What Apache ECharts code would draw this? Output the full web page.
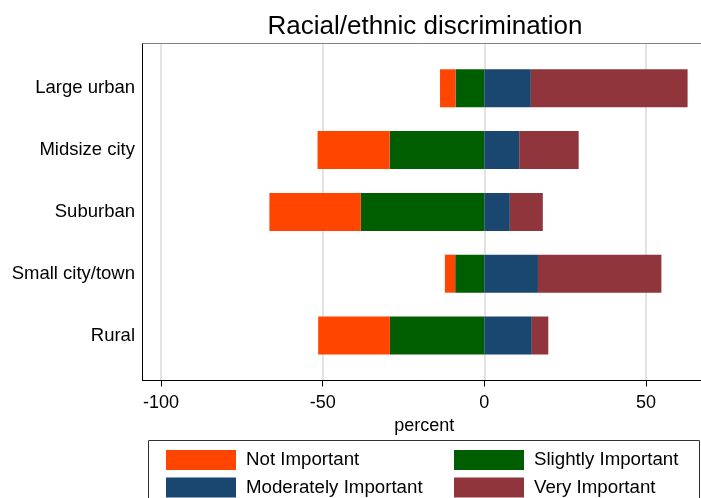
<!DOCTYPE html>
<html><head><meta charset="utf-8">
<script src="https://cdn.jsdelivr.net/npm/echarts@6/dist/echarts.min.js"></script>
<style>html,body{margin:0;padding:0;background:#fff}#c{width:701px;height:498px}</style>
</head><body><div id="c"></div>
<script>
const categories = ['Large urban', 'Midsize city', 'Suburban', 'Small city/town', 'Rural'];
const notImportant = [4.8, 22.3, 28.3, 3.2, 22.2];
const slightlyImportant = [8.9, 29.3, 38.2, 9.0, 29.2];
const moderatelyImportant = [14.4, 10.8, 7.9, 16.6, 14.7];
const veryImportant = [48.5, 18.4, 10.2, 38.2, 5.1];
const xTicks = [-100, -50, 0, 50];

const FONT = '"Liberation Sans", Arial, Helvetica, sans-serif';
const XMIN = -105.7, XMAX = 67.05;
const colors = {
  'Not Important': '#ff4500',
  'Slightly Important': '#005e00',
  'Moderately Important': '#1a476f',
  'Very Important': '#90353b'
};

const chart = echarts.init(document.getElementById('c'), null, {renderer: 'canvas'});
function bar(name, data) {
  return {
    name: name, type: 'bar', stack: 'all', xAxisIndex: 0, yAxisIndex: 0,
    barWidth: 38, data: data,
    itemStyle: {color: colors[name]}, emphasis: {disabled: true}
  };
}
const legendText = {fontSize: 18.7, color: '#000', lineHeight: 20, padding: [0, 0, 0, 5], fontFamily: FONT};
chart.setOption({
  animation: false,
  backgroundColor: '#fff',
  textStyle: {fontFamily: FONT},
  title: {
    text: 'Racial/ethnic discrimination', left: 420, top: 9, textAlign: 'center',
    textStyle: {fontSize: 26, fontWeight: 'normal', color: '#000', fontFamily: FONT}
  },
  grid: [
    {left: 142.7, right: 0, top: 57.4, bottom: 131.6},
    {left: 142.7, right: 0, top: 43.3, bottom: 117.5}
  ],
  xAxis: [
    {gridIndex: 0, type: 'value', min: XMIN, max: XMAX, show: false},
    {gridIndex: 1, type: 'value', min: XMIN, max: XMAX, position: 'bottom',
     axisLine: {show: true, onZero: false, lineStyle: {color: '#000', width: 1}},
     axisTick: {show: true, customValues: xTicks, length: 6, lineStyle: {color: '#000', width: 1}},
     axisLabel: {customValues: xTicks, fontSize: 18, color: '#000', margin: 14, fontFamily: FONT},
     splitLine: {show: true, lineStyle: {color: '#dadada', width: 1.5}},
     name: 'percent', nameLocation: 'middle', nameGap: 29,
     nameTextStyle: {fontSize: 18, color: '#000', padding: [0, 0, 0, 5], fontFamily: FONT}},
    {gridIndex: 1, type: 'value', min: XMIN, max: XMAX, position: 'top',
     axisLine: {show: true, onZero: false, lineStyle: {color: '#808080', width: 1}},
     axisTick: {show: false}, axisLabel: {show: false}, splitLine: {show: false}}
  ],
  yAxis: [
    {gridIndex: 0, type: 'category', inverse: true, data: categories,
     axisLine: {show: false}, axisTick: {show: false},
     axisLabel: {fontSize: 18.5, color: '#000', margin: 7.7, fontFamily: FONT}},
    {gridIndex: 1, type: 'value', min: 0, max: 1, position: 'left',
     axisLine: {show: true, onZero: false, lineStyle: {color: '#000', width: 1}},
     axisTick: {show: false}, axisLabel: {show: false}, splitLine: {show: false}}
  ],
  legend: [
    {data: ['Not Important', 'Moderately Important'], orient: 'vertical', left: 166, top: 450,
     height: 80, padding: 0,
     itemWidth: 70, itemHeight: 20, itemGap: 7.5, icon: 'rect', selectedMode: false,
     textStyle: legendText},
    {data: ['Slightly Important', 'Very Important'], orient: 'vertical', left: 454, top: 450,
     height: 80, padding: 0,
     itemWidth: 70, itemHeight: 20, itemGap: 7.5, icon: 'rect', selectedMode: false,
     textStyle: legendText}
  ],
  graphic: [
    {type: 'rect', shape: {x: 148.5, y: 440.5, width: 551, height: 80},
     style: {fill: 'none', stroke: '#333', lineWidth: 1}, silent: true}
  ],
  series: [
    bar('Slightly Important', slightlyImportant.map(v => -v)),
    bar('Not Important', notImportant.map(v => -v)),
    bar('Moderately Important', moderatelyImportant),
    bar('Very Important', veryImportant)
  ]
});
</script>
</body></html>
